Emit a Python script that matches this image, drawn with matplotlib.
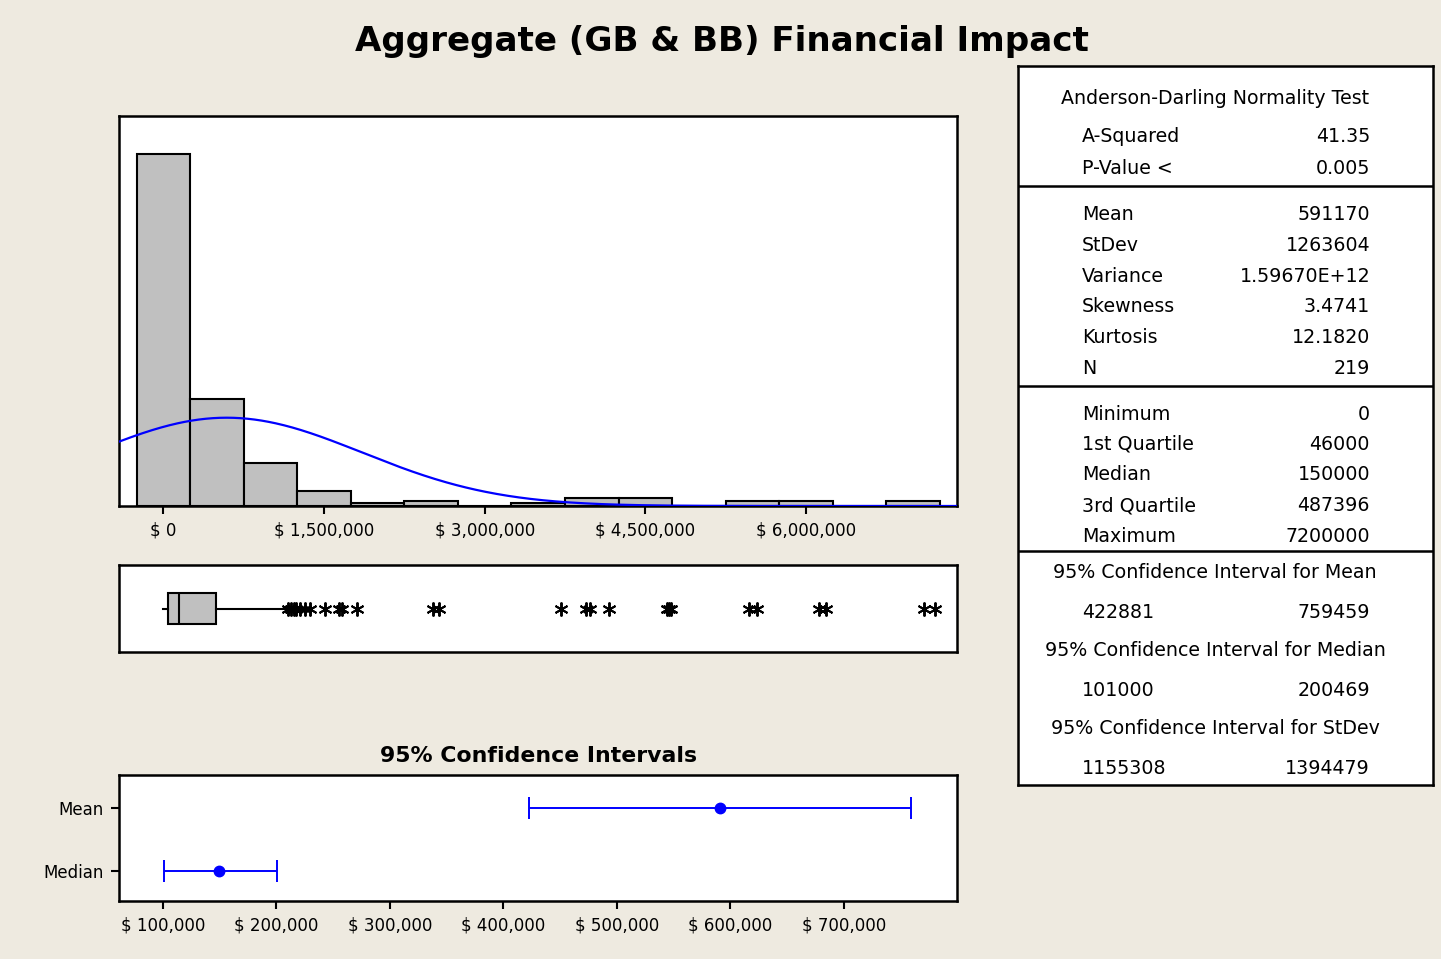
import numpy as np
import matplotlib.pyplot as plt
from matplotlib.ticker import FuncFormatter

plt.rcParams['font.family'] = ['DejaVu Sans']

# histogram: bins 500,000 wide
bin_centers = [0, 500000, 1000000, 1500000, 2000000, 2500000, 3000000, 3500000,
               4000000, 4500000, 5000000, 5500000, 6000000, 6500000, 7000000]
bin_counts = [138, 42, 17, 6, 1, 2, 0, 1, 3, 3, 0, 2, 2, 0, 2]
bin_width = 500000
hist_ticks = [0, 1500000, 3000000, 4500000, 6000000]

# summary statistics
mean_val = 591170
stdev_val = 1263604
n_obs = 219
min_val = 0
q1_val = 46000
median_val = 150000
q3_val = 487396
max_val = 7200000
whisker_hi = 1135000
outliers = [1160000, 1190000, 1220000, 1240000, 1280000, 1320000, 1370000, 1510000,
            1640000, 1670000, 1810000, 2520000, 2570000, 3710000, 3950000, 3980000,
            4160000, 4700000, 4720000, 4740000, 5470000, 5540000, 6120000, 6190000,
            7100000, 7200000]

# confidence intervals
ci_labels = ["Mean", "Median"]
ci_centers = [591170, 150000]
ci_lows = [422881, 101000]
ci_highs = [759459, 200469]
ci_ticks = [100000, 200000, 300000, 400000, 500000, 600000, 700000]

# table text
ad_labels = ["A-Squared", "P-Value <"]
ad_values = ["41.35", "0.005"]
desc_labels = ["Mean", "StDev", "Variance", "Skewness", "Kurtosis", "N"]
desc_values = ["591170", "1263604", "1.59670E+12", "3.4741", "12.1820", "219"]
quart_labels = ["Minimum", "1st Quartile", "Median", "3rd Quartile", "Maximum"]
quart_values = ["0", "46000", "150000", "487396", "7200000"]
ci_headings = ["95% Confidence Interval for Mean",
               "95% Confidence Interval for Median",
               "95% Confidence Interval for StDev"]
ci_table_lo = ["422881", "101000", "1155308"]
ci_table_hi = ["759459", "200469", "1394479"]

BG = "#EEEAE0"
GREY = "#C0C0C0"
W, H = 1441, 959


def px_axes(fig, x0, y0, x1, y1):
    # axes from pixel box (top-left origin)
    return fig.add_axes([x0 / W, 1 - y1 / H, (x1 - x0) / W, (y1 - y0) / H])


def dollar(v, pos=None):
    return f"$ {v:,.0f}"


def style_spines(ax):
    for s in ax.spines.values():
        s.set_linewidth(1.8)
        s.set_color("black")


fig = plt.figure(figsize=(W / 100, H / 100), dpi=100, facecolor=BG)

fig.text(722 / W, 1 - 41 / H, "Aggregate (GB & BB) Financial Impact",
         ha="center", va="center", fontsize=24.6, fontweight="bold")

# --- histogram ---
ax_h = px_axes(fig, 119, 116, 957, 506)
ax_h.bar(bin_centers, bin_counts, width=bin_width, color=GREY,
         edgecolor="black", linewidth=1.5, zorder=2)
x_lo, x_hi = -414000, 7410000
xs = np.linspace(x_lo, x_hi, 600)
pdf = np.exp(-0.5 * ((xs - mean_val) / stdev_val) ** 2) / (stdev_val * np.sqrt(2 * np.pi))
ax_h.plot(xs, pdf * n_obs * bin_width, color="blue", lw=1.6, zorder=3)
ax_h.set_xlim(x_lo, x_hi)
ax_h.set_ylim(0, 152.7)
ax_h.set_yticks([])
ax_h.set_xticks(hist_ticks)
ax_h.xaxis.set_major_formatter(FuncFormatter(dollar))
ax_h.tick_params(axis="x", direction="out", length=6, width=1.5, labelsize=12, pad=5)
style_spines(ax_h)

# --- boxplot ---
ax_b = px_axes(fig, 119, 565, 957, 652)
stats = [dict(med=median_val, q1=q1_val, q3=q3_val, whislo=min_val,
              whishi=whisker_hi, fliers=outliers)]
ax_b.bxp(stats, positions=[0.5], widths=0.36, orientation="horizontal",
         patch_artist=True, showcaps=False,
         boxprops=dict(facecolor=GREY, edgecolor="black", linewidth=1.5),
         medianprops=dict(color="black", linewidth=1.5),
         whiskerprops=dict(color="black", linewidth=1.5),
         flierprops=dict(marker=(6, 2, 0), markersize=10, markeredgecolor="black",
                         markeredgewidth=1.4, linestyle="none"))
ax_b.set_xlim(x_lo, x_hi)
ax_b.set_ylim(0, 1)
ax_b.set_xticks([])
ax_b.set_yticks([])
style_spines(ax_b)

# --- confidence intervals ---
ax_c = px_axes(fig, 119, 775, 957, 901)
ypos = [1, 0]
for yp, c, lo, hi in zip(ypos, ci_centers, ci_lows, ci_highs):
    ax_c.errorbar([c], [yp], xerr=[[c - lo], [hi - c]], fmt="o", color="blue",
                  ms=7.5, capsize=8, elinewidth=1.4, capthick=1.4)
ax_c.set_xlim(61500, 799800)
ax_c.set_ylim(-0.48, 1.52)
ax_c.set_yticks(ypos)
ax_c.set_yticklabels(ci_labels)
ax_c.set_xticks(ci_ticks)
ax_c.xaxis.set_major_formatter(FuncFormatter(dollar))
ax_c.tick_params(axis="both", direction="out", length=6, width=1.5, labelsize=12, pad=5)
ax_c.set_title("95% Confidence Intervals", fontsize=15.8, fontweight="bold", pad=9)
style_spines(ax_c)

# --- statistics table ---
ax_t = px_axes(fig, 1018, 66, 1433, 785)
ax_t.set_xlim(0, 415)
ax_t.set_ylim(719, 0)
ax_t.set_xticks([])
ax_t.set_yticks([])
style_spines(ax_t)
fs = 13.7
lx, rx, cx = 64, 352, 197

ax_t.text(cx, 32, "Anderson-Darling Normality Test", ha="center", va="center", fontsize=fs)
for i, (lab, val) in enumerate(zip(ad_labels, ad_values)):
    y = 71 + i * 32
    ax_t.text(lx, y, lab, ha="left", va="center", fontsize=fs)
    ax_t.text(rx, y, val, ha="right", va="center", fontsize=fs)
ax_t.axhline(120, color="black", lw=1.8)

for i, (lab, val) in enumerate(zip(desc_labels, desc_values)):
    y = 149 + i * 30.6
    ax_t.text(lx, y, lab, ha="left", va="center", fontsize=fs)
    ax_t.text(rx, y, val, ha="right", va="center", fontsize=fs)
ax_t.axhline(320, color="black", lw=1.8)

for i, (lab, val) in enumerate(zip(quart_labels, quart_values)):
    y = 348 + i * 30.5
    ax_t.text(lx, y, lab, ha="left", va="center", fontsize=fs)
    ax_t.text(rx, y, val, ha="right", va="center", fontsize=fs)
ax_t.axhline(485, color="black", lw=1.8)

for i, (head, lo, hi) in enumerate(zip(ci_headings, ci_table_lo, ci_table_hi)):
    y = 507 + i * 78
    ax_t.text(cx, y, head, ha="center", va="center", fontsize=fs)
    ax_t.text(lx, y + 39, lo, ha="left", va="center", fontsize=fs)
    ax_t.text(rx, y + 39, hi, ha="right", va="center", fontsize=fs)

fig.savefig("out.png", dpi=100, facecolor=BG)
